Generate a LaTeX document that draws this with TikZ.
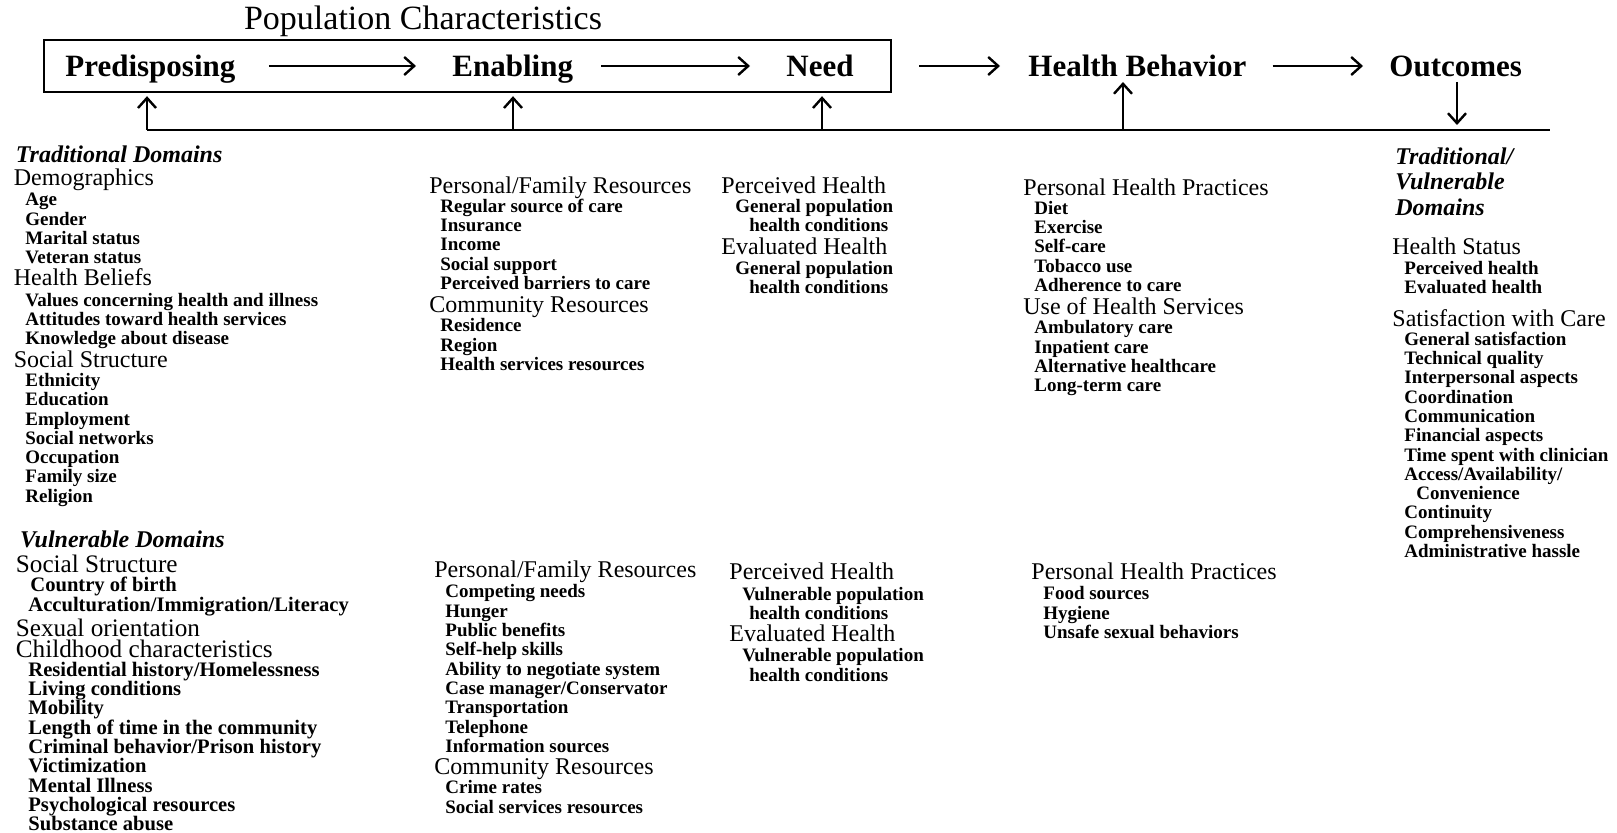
\documentclass[tikz,border=0pt]{standalone}
\usepackage{fontspec}
\setmainfont{Liberation Serif}
\usetikzlibrary{arrows.meta}
\begin{document}
\begin{tikzpicture}[x=0.5pt,y=-0.5pt,
 it/.style={anchor=west,inner sep=0pt,yshift=-1.25pt,font=\fontsize{9.5}{10}\selectfont\bfseries,text height=0.6em,text depth=0.15em},
 itb/.style={anchor=west,inner sep=0pt,yshift=-1pt,font=\fontsize{10.3}{11}\selectfont\bfseries,text height=0.6em,text depth=0.1em},
 hd/.style={anchor=west,inner sep=0pt,yshift=-2pt,font=\fontsize{12}{13}\selectfont,text height=0.6em,text depth=0.15em},
 hdb/.style={anchor=west,inner sep=0pt,yshift=-2.3pt,font=\fontsize{12.6}{14}\selectfont,text height=0.55em,text depth=0.15em},
 dom/.style={anchor=west,inner sep=0pt,yshift=-2pt,font=\fontsize{12}{13}\selectfont\bfseries\itshape,text height=0.6em,text depth=0.15em},
 ttl/.style={anchor=west,inner sep=0pt,yshift=-3pt,font=\fontsize{15.5}{17}\selectfont\bfseries,text height=0.6em,text depth=0.15em},
 ln/.style={line width=1.2pt},
 arr/.style={ln,-{Straight Barb[length=5pt,width=9pt,line width=1.2pt]}}
]
\useasboundingbox (0,0) rectangle (1617,833);

% ---------- top flow ----------
\node[font=\fontsize{17}{19}\selectfont,inner sep=0pt,yshift=-1.5pt] (popttl) at (423,18.6) {Population Characteristics};
\node[draw,line width=1.2pt,minimum width=423.5pt,minimum height=26pt,inner sep=0pt] (popbox) at (467.5,66) {};
\node[ttl] (pred) at (65,66) {Predisposing};
\node[ttl] (enab) at (452,66) {Enabling};
\node[ttl] (need) at (786,66) {Need};
\node[ttl] (hb) at (1028,66) {Health Behavior};
\node[ttl] (out) at (1389,66) {Outcomes};

\draw[arr,shorten <=16.5pt,shorten >=18pt] (pred.east |- popbox.east) -- (enab.west |- popbox.east);
\draw[arr,shorten <=14pt,shorten >=18pt] (enab.east |- popbox.east) -- (need.west |- popbox.east);
\draw[arr,shorten <=13.5pt,shorten >=14pt] (popbox.east) -- (popbox.east -| hb.west);
\draw[arr,shorten <=13pt,shorten >=13pt] (hb.east |- popbox.east) -- (out.west |- popbox.east);

\coordinate (f1) at (147,130);
\coordinate (f2) at (513,130);
\coordinate (f3) at (822,130);
\coordinate (f4) at (1123,130);
\coordinate (fR) at (1550,130);
\coordinate (hbtip) at (1123,82);
\coordinate (outtop) at (1457,82);
\draw[ln] (f1) -- (fR);
\draw[arr,shorten >=1.5pt] (f1) -- (f1 |- popbox.south);
\draw[arr,shorten >=1.5pt] (f2) -- (f2 |- popbox.south);
\draw[arr,shorten >=1.5pt] (f3) -- (f3 |- popbox.south);
\draw[arr] (f4) -- (hbtip);
\draw[arr,shorten >=2.5pt] (outtop) -- (outtop |- fR);

% ---------- column 1 : predisposing ----------
\node[dom] (tdom) at (15.5,153.7) {Traditional Domains};
\node[hd] (demo) at (13.5,177.4) {Demographics};
\foreach \t [count=\i from 0] in {Age,Gender,Marital status,Veteran status}
  \node[it] (dem\i) at (25,{199+19.3*\i}) {\t};
\node[hd] (hbel) at (13.5,277.4) {Health Beliefs};
\foreach \t [count=\i from 0] in {Values concerning health and illness,Attitudes toward health services,Knowledge about disease}
  \node[it] (bel\i) at (25,{299.1+19.3*\i}) {\t};
\node[hd] (sstr) at (13.5,358.9) {Social Structure};
\foreach \t [count=\i from 0] in {Ethnicity,Education,Employment,Social networks,Occupation,Family size,Religion}
  \node[it] (ss\i) at (25,{379.5+19.3*\i}) {\t};

\node[dom] (vdom) at (19.6,539.4) {Vulnerable Domains};
\node[hdb] (vsstr) at (15.5,564.1) {Social Structure};
\node[itb] (vss0) at (30,584.2) {Country of birth};
\node[itb] (vss1) at (28,604.2) {Acculturation/Immigration/Literacy};
\node[hdb] (vsex) at (15.5,628) {Sexual orientation};
\node[hdb] (vchild) at (15.5,648.5) {Childhood characteristics};
\foreach \t [count=\i from 0] in {Residential history/Homelessness,Living conditions,Mobility,Length of time in the community,Criminal behavior/Prison history,Victimization,Mental Illness,Psychological resources,Substance abuse}
  \node[itb] (vch\i) at (28,{669.3+19.3*\i}) {\t};

% ---------- column 2 : enabling ----------
\node[hd] (pfr) at (429,184.6) {Personal/Family Resources};
\foreach \t [count=\i from 0] in {Regular source of care,Insurance,Income,Social support,Perceived barriers to care}
  \node[it] (pf\i) at (440,{205.2+19.3*\i}) {\t};
\node[hd] (cr) at (429,304.2) {Community Resources};
\foreach \t [count=\i from 0] in {Residence,Region,Health services resources}
  \node[it] (cr\i) at (440,{324.9+19.3*\i}) {\t};

\node[hd] (vpfr) at (434,569.3) {Personal/Family Resources};
\foreach \t [count=\i from 0] in {Competing needs,Hunger,Public benefits,Self-help skills,Ability to negotiate system,Case manager/Conservator,Transportation,Telephone,Information sources}
  \node[it] (vpf\i) at (445,{590.9+19.3*\i}) {\t};
\node[hd] (vcr) at (434,766.3) {Community Resources};
\node[it] (vcr0) at (445,786.9) {Crime rates};
\node[it] (vcr1) at (445,806.2) {Social services resources};

% ---------- column 3 : need ----------
\node[hd] (ph) at (721,184.6) {Perceived Health};
\node[it] (ph0) at (735,205.2) {General population};
\node[it] (ph1) at (749,224.8) {health conditions};
\node[hd] (eh) at (721,246.5) {Evaluated Health};
\node[it] (eh0) at (735,267.1) {General population};
\node[it] (eh1) at (749,286.7) {health conditions};

\node[hd] (vph) at (729,571.3) {Perceived Health};
\node[it] (vph0) at (742,594) {Vulnerable population};
\node[it] (vph1) at (749,612.6) {health conditions};
\node[hd] (veh) at (729,633.2) {Evaluated Health};
\node[it] (veh0) at (742,654.9) {Vulnerable population};
\node[it] (veh1) at (749,674.5) {health conditions};

% ---------- column 4 : health behavior ----------
\node[hd] (php) at (1023,186.7) {Personal Health Practices};
\foreach \t [count=\i from 0] in {Diet,Exercise,Self-care,Tobacco use,Adherence to care}
  \node[it] (php\i) at (1034,{207.3+19.3*\i}) {\t};
\node[hd] (uhs) at (1023,306.3) {Use of Health Services};
\foreach \t [count=\i from 0] in {Ambulatory care,Inpatient care,Alternative healthcare,Long-term care}
  \node[it] (uhs\i) at (1034,{326.9+19.3*\i}) {\t};

\node[hd] (vphp) at (1031,571.3) {Personal Health Practices};
\foreach \t [count=\i from 0] in {Food sources,Hygiene,Unsafe sexual behaviors}
  \node[it] (vphp\i) at (1043,{593+19.3*\i}) {\t};

% ---------- column 5 : outcomes ----------
\node[dom] (tv0) at (1395,155.7) {Traditional/};
\node[dom] (tv1) at (1395,181.5) {Vulnerable};
\node[dom] (tv2) at (1395,207.3) {Domains};
\node[hd] (hs) at (1392,246.5) {Health Status};
\node[it] (hs0) at (1404,267.1) {Perceived health};
\node[it] (hs1) at (1404,286.4) {Evaluated health};
\node[hd] (sat) at (1392,317.6) {Satisfaction with Care};
\foreach \t [count=\i from 0] in {General satisfaction,Technical quality,Interpersonal aspects,Coordination,Communication,Financial aspects,Time spent with clinician,Access/Availability/}
  \node[it] (sat\i) at (1404,{338.3+19.3*\i}) {\t};
\node[it] (sat8) at (1416,492.7) {Convenience};
\node[it] (sat9) at (1404,512) {Continuity};
\node[it] (sat10) at (1404,531.3) {Comprehensiveness};
\node[it] (sat11) at (1404,550.6) {Administrative hassle};
\end{tikzpicture}
\end{document}
